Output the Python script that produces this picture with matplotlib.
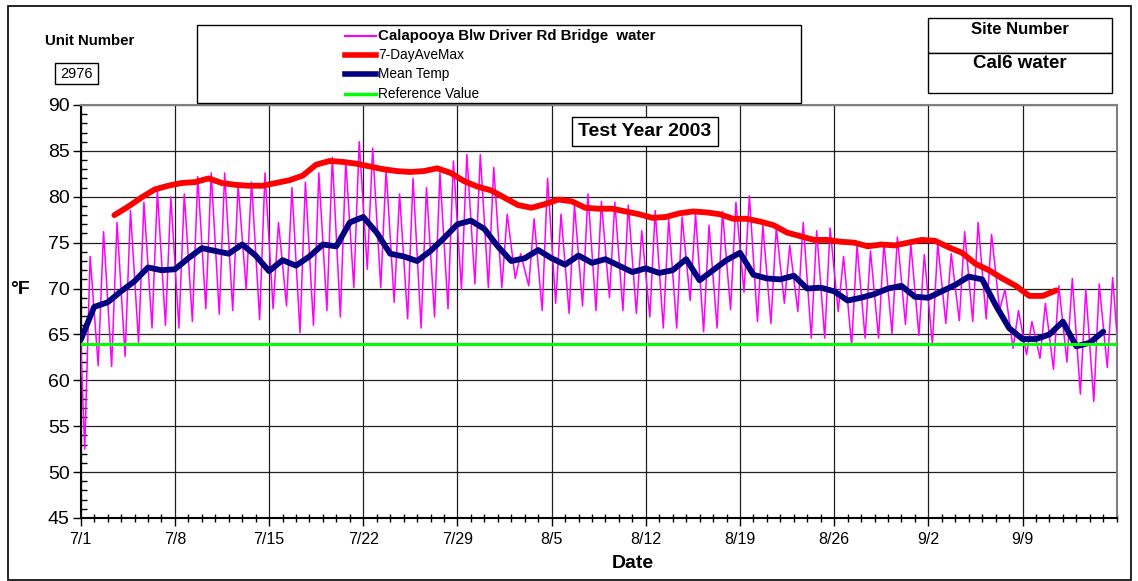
import matplotlib.pyplot as plt
import numpy as np
from matplotlib.patches import Rectangle
from matplotlib.lines import Line2D

plt.rcParams['font.family'] = ['Liberation Sans', 'DejaVu Sans']

# daily lows / highs of the hourly trace (day 0 = 7/1)
daily_low = [52.5, 61.6, 61.5, 62.6, 64.1, 65.7, 66.0, 65.7, 66.4, 67.8,
             67.2, 67.6, 69.9, 66.6, 67.8, 68.1, 65.2, 66.0, 67.6, 66.9,
             70.1, 72.1, 70.1, 68.5, 66.7, 65.7, 66.9, 67.8, 69.9, 70.5,
             70.1, 70.1, 71.1, 70.3, 67.6, 68.4, 67.3, 68.1, 67.6, 69.0,
             67.6, 67.3, 66.9, 65.7, 65.7, 68.7, 65.3, 65.7, 67.7, 69.6,
             66.4, 66.2, 68.4, 67.5, 64.6, 64.6, 67.5, 63.8, 64.6, 64.6,
             65.1, 66.1, 64.9, 63.9, 66.2, 66.5, 66.4, 66.7, 67.7, 63.5,
             62.8, 62.4, 61.2, 62.0, 58.5, 57.7, 61.4]
daily_high = [73.5, 76.2, 77.2, 78.5, 79.4, 80.6, 80.0, 80.3, 82.2, 82.6,
              82.6, 81.3, 81.6, 82.6, 77.2, 81.0, 81.6, 82.6, 84.3, 83.9,
              86.0, 85.3, 83.0, 80.3, 82.0, 81.0, 82.6, 83.9, 84.6, 84.6,
              83.2, 78.1, 73.8, 77.6, 82.0, 78.1, 79.1, 80.3, 79.5, 79.4,
              79.1, 76.3, 78.5, 77.6, 77.8, 78.1, 76.9, 78.4, 79.4, 80.1,
              76.9, 76.6, 74.7, 77.2, 76.3, 76.6, 73.5, 74.7, 74.1, 75.0,
              75.6, 74.8, 73.7, 74.9, 73.8, 76.2, 77.2, 75.9, 69.9, 67.6,
              66.4, 68.4, 70.3, 71.1, 69.9, 70.5, 71.2]
first_reading = 64.0
last_reading = 65.3

mean_temp = [64.4, 68.0, 68.5, 69.7, 70.8, 72.3, 72.0, 72.1, 73.3, 74.4,
             74.1, 73.8, 74.8, 73.6, 71.9, 73.1, 72.5, 73.5, 74.8, 74.6,
             77.2, 77.8, 76.1, 73.8, 73.5, 73.0, 74.1, 75.5, 77.0, 77.4,
             76.5, 74.6, 73.0, 73.3, 74.2, 73.3, 72.6, 73.6, 72.8, 73.2,
             72.5, 71.8, 72.2, 71.7, 72.0, 73.2, 70.9, 72.0, 73.1, 73.9,
             71.5, 71.1, 71.0, 71.4, 70.0, 70.1, 69.7, 68.7, 69.0, 69.4,
             70.0, 70.3, 69.1, 69.0, 69.7, 70.4, 71.3, 71.0, 68.2, 65.7,
             64.5, 64.5, 65.0, 66.4, 63.7, 64.1, 65.3]

seven_day_max = [78.0, 78.9, 79.9, 80.8, 81.2, 81.5, 81.6, 82.0, 81.5, 81.3,
                 81.2, 81.2, 81.5, 81.8, 82.3, 83.5, 83.9, 83.8, 83.6, 83.3,
                 83.0, 82.8, 82.7, 82.8, 83.1, 82.6, 81.7, 81.1, 80.7, 79.9,
                 79.1, 78.8, 79.2, 79.7, 79.5, 78.8, 78.7, 78.7, 78.4, 78.1,
                 77.7, 77.8, 78.2, 78.4, 78.3, 78.1, 77.6, 77.6, 77.3, 76.9,
                 76.1, 75.7, 75.3, 75.3, 75.1, 75.0, 74.6, 74.8, 74.7, 75.0,
                 75.3, 75.2, 74.5, 73.9, 72.7, 72.0, 71.1, 70.3, 69.2, 69.2,
                 69.8]
reference_value = 64

tick_labels = ['7/1', '7/8', '7/15', '7/22', '7/29', '8/5', '8/12', '8/19',
               '8/26', '9/2', '9/9']
n_days = 77

W, H = 1138, 581


def fx(px):
    return px / W


def fy(py):
    return 1 - py / H


fig = plt.figure(figsize=(W / 100, H / 100), dpi=100)
ax = fig.add_axes([fx(80.7), fy(518), fx(1116.7) - fx(80.7), fy(105) - fy(518)])

# hourly trace: low in the morning, high late afternoon
t = [0.0]
v = [first_reading]
for d, (lo, hi) in enumerate(zip(daily_low, daily_high)):
    t += [d + 0.3, d + 0.7]
    v += [lo, hi]
t.append(n_days)
v.append(last_reading)

mean_days = np.arange(len(mean_temp))
red_days = np.arange(len(seven_day_max)) + 2.5

ax.plot(t, v, color='#FF00FF', lw=1.1, zorder=3)
ax.plot(red_days, seven_day_max, color='#FF0000', lw=4.2,
        solid_capstyle='round', solid_joinstyle='round', zorder=4)
ax.plot(mean_days, mean_temp, color='#000080', lw=4.2,
        solid_capstyle='round', solid_joinstyle='round', zorder=5)
ax.axhline(reference_value, color='#00FF00', lw=2.2, zorder=6)

ax.set_xlim(0, n_days)
ax.set_ylim(45, 90)
ax.set_xticks(np.arange(0, 71, 7))
ax.set_xticklabels(tick_labels)
ax.set_xticks(np.arange(0, n_days + 1), minor=True)
ax.set_yticks(np.arange(45, 91, 5))
ax.set_yticks(np.arange(45, 91, 1), minor=True)
ax.grid(which='major', color='#202020', lw=0.9, zorder=1)
ax.set_axisbelow(True)

ax.tick_params(axis='y', which='major', direction='out', length=6, width=1,
               labelsize=14, pad=2)
ax.tick_params(axis='y', which='minor', direction='in', length=4, width=1)
ax.tick_params(axis='x', which='major', direction='out', length=6, width=1,
               labelsize=11.5, pad=4)
ax.tick_params(axis='x', which='minor', direction='inout', length=6, width=1)

for side in ['top', 'right']:
    ax.spines[side].set_color('#808080')
    ax.spines[side].set_linewidth(1.5)
for side in ['left', 'bottom']:
    ax.spines[side].set_color('black')
    ax.spines[side].set_linewidth(1.5)

fig.text(fx(20), fy(290), '°F', fontsize=14, fontweight='bold',
         ha='center', va='center')
fig.text(fx(633), fy(563), 'Date', fontsize=14, fontweight='bold',
         ha='center', va='center')


def box(x0, y0, x1, y1, lw=1.0):
    r = Rectangle((fx(x0), fy(y1)), fx(x1) - fx(x0), fy(y0) - fy(y1),
                  transform=fig.transFigure, facecolor='white',
                  edgecolor='black', lw=lw, zorder=10)
    fig.add_artist(r)


# outer frame
fig.add_artist(Rectangle((fx(8), fy(580)), fx(1131) - fx(8), fy(6) - fy(580),
                         transform=fig.transFigure, fill=False,
                         edgecolor='black', lw=1.2))

# legend
box(197, 25, 801, 103)
legend_items = [('Calapooya Blw Driver Rd Bridge  water', '#FF00FF', 1.5, 'bold', 10.8),
                ('7-DayAveMax', '#FF0000', 4.0, 'normal', 9.8),
                ('Mean Temp', '#000080', 4.0, 'normal', 9.8),
                ('Reference Value', '#00FF00', 2.5, 'normal', 9.8)]
for (label, col, lw, weight, size), yy in zip(legend_items, [36, 55, 74, 94]):
    fig.add_artist(Line2D([fx(345), fx(376)], [fy(yy), fy(yy)], color=col, lw=lw,
                          transform=fig.transFigure, zorder=11))
    fig.text(fx(378), fy(yy), label, fontsize=size, fontweight=weight,
             ha='left', va='center', zorder=12)

# unit number
fig.text(fx(90), fy(41), 'Unit Number', fontsize=10.8, fontweight='bold',
         ha='center', va='center')
box(55, 63, 98, 84)
fig.text(fx(76.5), fy(73.5), '2976', fontsize=10.5, ha='center', va='center',
         zorder=12)

# site number
box(928, 18, 1112, 53)
box(928, 53, 1112, 93)
fig.text(fx(1020), fy(30), 'Site Number', fontsize=12, fontweight='bold',
         ha='center', va='center', zorder=12)
fig.text(fx(1020), fy(63), 'Cal6 water', fontsize=13.5, fontweight='bold',
         ha='center', va='center', zorder=12)

# test year
box(572, 117, 718, 146)
fig.text(fx(645), fy(131.5), 'Test Year 2003', fontsize=14, fontweight='bold',
         ha='center', va='center', zorder=12)

fig.savefig('out.png', dpi=100)
